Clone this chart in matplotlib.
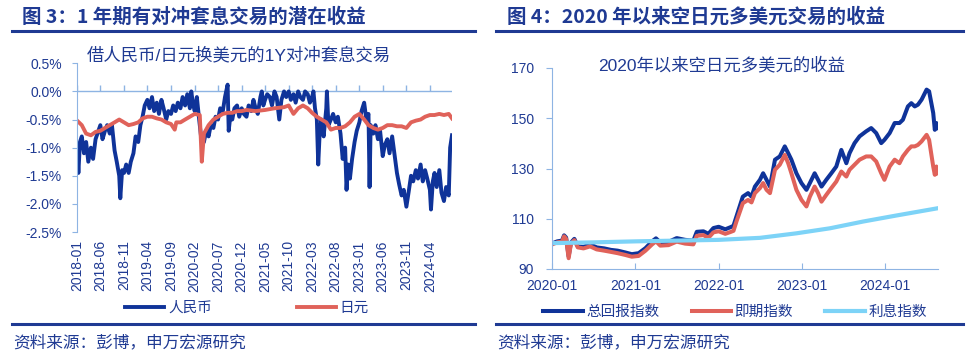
import matplotlib
matplotlib.use('Agg')
import matplotlib.pyplot as plt
import pandas as pd
import numpy as np
from matplotlib.lines import Line2D

plt.rcParams['font.family'] = ['Liberation Sans', 'Noto Sans CJK SC', 'DejaVu Sans']

NAVY = '#0F3399'
RED = '#E0625A'
LBLUE = '#7DD3F7'
TXT = '#1F3A93'
SPINE = '#8EB4E3'

# ---- 图3: 1年期对冲套息交易收益 (%), 人民币 / 日元
rmb_dates = ['2018-01-02', '2018-01-10', '2018-01-20', '2018-02-01', '2018-02-15', '2018-03-01', '2018-03-15',
             '2018-04-01', '2018-04-15', '2018-05-01', '2018-06-01', '2018-06-15', '2018-07-01', '2018-07-15',
             '2018-08-01', '2018-08-15', '2018-09-01', '2018-09-15', '2018-10-01', '2018-10-08', '2018-10-20',
             '2018-11-01', '2018-11-15', '2018-12-01', '2018-12-15', '2019-01-01', '2019-01-15', '2019-02-01',
             '2019-02-15', '2019-03-01', '2019-03-15', '2019-04-01', '2019-04-15', '2019-05-01', '2019-05-15',
             '2019-06-01', '2019-06-15', '2019-07-01', '2019-07-15', '2019-08-01', '2019-08-15', '2019-09-01',
             '2019-09-15', '2019-10-01', '2019-10-15', '2019-11-01', '2019-11-15', '2019-12-01', '2019-12-15',
             '2020-01-01', '2020-01-10', '2020-01-20', '2020-02-01', '2020-02-15', '2020-03-01', '2020-03-15',
             '2020-04-01', '2020-04-15', '2020-05-01', '2020-05-15', '2020-06-01', '2020-06-15', '2020-07-01',
             '2020-07-15', '2020-08-01', '2020-08-15', '2020-09-01', '2020-09-08', '2020-09-20', '2020-10-01',
             '2020-10-15', '2020-11-01', '2020-11-15', '2020-12-01', '2020-12-15', '2021-01-01', '2021-01-15',
             '2021-02-01', '2021-02-15', '2021-03-01', '2021-03-15', '2021-04-01', '2021-04-10', '2021-04-20',
             '2021-05-01', '2021-05-15', '2021-06-01', '2021-06-15', '2021-07-01', '2021-07-15', '2021-08-01',
             '2021-08-15', '2021-09-01', '2021-09-15', '2021-10-01', '2021-10-15', '2021-11-01', '2021-11-15',
             '2021-12-01', '2021-12-15', '2022-01-01', '2022-01-15', '2022-02-01', '2022-02-15', '2022-03-01',
             '2022-03-10', '2022-03-20', '2022-04-01', '2022-04-10', '2022-04-20', '2022-05-01', '2022-05-15',
             '2022-06-01', '2022-06-05', '2022-06-15', '2022-07-01', '2022-07-15', '2022-08-01', '2022-08-15',
             '2022-09-01', '2022-09-15', '2022-10-01', '2022-10-10', '2022-10-20', '2022-11-01', '2022-11-15',
             '2022-12-01', '2022-12-15', '2023-01-01', '2023-01-15', '2023-02-01', '2023-02-15', '2023-03-01',
             '2023-03-08', '2023-03-15', '2023-04-01', '2023-04-15', '2023-05-01', '2023-05-15', '2023-06-01',
             '2023-06-15', '2023-07-01', '2023-07-15', '2023-08-01', '2023-08-15', '2023-09-01', '2023-09-15',
             '2023-10-01', '2023-10-15', '2023-11-01', '2023-11-15', '2023-12-01', '2023-12-15', '2024-01-01',
             '2024-01-15', '2024-02-01', '2024-02-15', '2024-03-01', '2024-03-15', '2024-04-01', '2024-04-08',
             '2024-04-20', '2024-05-01', '2024-05-15', '2024-06-01', '2024-06-15', '2024-07-01', '2024-07-15',
             '2024-08-01', '2024-08-10', '2024-08-22']
rmb_carry = [-1.0, -1.45, -0.9, -0.8, -1.1, -0.9, -1.25,
             -1.0, -1.2, -0.85, -0.6, -0.85, -0.7, -0.6,
             -0.75, -0.6, -1.05, -1.25, -1.5, -1.9, -1.4,
             -1.45, -1.3, -1.45, -1.25, -1.1, -0.8, -0.9,
             -0.6, -0.45, -0.25, -0.15, -0.3, -0.1, -0.35,
             -0.2, -0.4, -0.15, -0.3, -0.5, -0.35, -0.4,
             -0.25, -0.35, -0.2, -0.3, -0.1, -0.25, -0.05,
             -0.3, 0.0, -0.2, -0.35, -0.1, -0.5, -0.85,
             -0.9, -0.7, -0.8, -0.6, -0.65, -0.45, -0.5,
             -0.3, -0.35, -0.1, 0.12, -0.7, -0.4, -0.5,
             -0.3, -0.25, -0.45, -0.3, -0.4, -0.45, -0.25,
             -0.35, -0.15, -0.3, -0.4, -0.1, 0.0, -0.25,
             -0.15, -0.05, -0.1, -0.25, 0.0, -0.1, -0.5,
             -0.15, 0.0, -0.1, 0.0, -0.15, -0.05, -0.2,
             0.0, -0.1, -0.15, 0.0, -0.05, -0.2, -0.1,
             0.0, -0.3, -0.5, -1.3, -0.7, -0.5, -0.8,
             -0.3, 0.0, -0.6, -0.5, -0.4, -0.55, -0.45,
             -0.75, -1.2, -1.0, -1.75, -1.3, -1.55, -1.2,
             -0.9, -0.7, -0.55, -0.35, -0.2, -0.5, -0.4,
             -1.7, -0.6, -0.75, -0.6, -0.85, -0.7, -1.15,
             -0.95, -0.85, -1.1, -0.8, -1.1, -1.45, -1.65,
             -1.85, -1.75, -2.05, -1.8, -1.5, -1.6, -1.4,
             -1.55, -1.3, -1.6, -1.4, -1.55, -1.75, -2.1,
             -1.6, -1.45, -1.7, -1.4, -1.8, -1.95, -1.7,
             -1.85, -1.0, -0.78]

jpy_dates = ['2018-01-02', '2018-02-01', '2018-03-01', '2018-04-01', '2018-05-01', '2018-06-01', '2018-07-01',
             '2018-08-01', '2018-09-01', '2018-10-01', '2018-11-01', '2018-12-01', '2019-01-01', '2019-02-01',
             '2019-03-01', '2019-04-01', '2019-05-01', '2019-06-01', '2019-07-01', '2019-08-01', '2019-09-01',
             '2019-09-25', '2019-10-05', '2019-11-01', '2019-12-01', '2020-01-01', '2020-02-01', '2020-03-05',
             '2020-03-18', '2020-04-01', '2020-05-01', '2020-06-01', '2020-07-01', '2020-08-01', '2020-09-01',
             '2020-10-01', '2020-11-01', '2020-12-01', '2021-01-01', '2021-03-01', '2021-05-01', '2021-07-01',
             '2021-09-01', '2021-10-01', '2021-11-01', '2021-12-01', '2022-01-01', '2022-02-01', '2022-03-01',
             '2022-04-01', '2022-05-01', '2022-06-01', '2022-07-01', '2022-08-01', '2022-09-01', '2022-10-01',
             '2022-11-01', '2022-12-01', '2023-01-01', '2023-02-01', '2023-03-01', '2023-04-01', '2023-05-01',
             '2023-06-01', '2023-07-01', '2023-08-01', '2023-09-01', '2023-10-01', '2023-11-01', '2023-12-01',
             '2024-01-01', '2024-02-01', '2024-03-01', '2024-04-01', '2024-05-01', '2024-06-01', '2024-07-01',
             '2024-08-01', '2024-08-22']
jpy_carry = [-0.52, -0.6, -0.75, -0.78, -0.72, -0.7, -0.65,
             -0.6, -0.55, -0.5, -0.55, -0.6, -0.58, -0.55,
             -0.48, -0.45, -0.45, -0.48, -0.5, -0.55, -0.58,
             -0.68, -0.55, -0.55, -0.5, -0.45, -0.4, -0.42,
             -1.25, -0.75, -0.6, -0.5, -0.45, -0.4, -0.38,
             -0.38, -0.35, -0.35, -0.33, -0.35, -0.33, -0.3,
             -0.28, -0.25, -0.4, -0.3, -0.25, -0.3, -0.38,
             -0.45, -0.5, -0.55, -0.68, -0.65, -0.65, -0.62,
             -0.55, -0.45, -0.4, -0.5, -0.6, -0.65, -0.68,
             -0.65, -0.6, -0.6, -0.62, -0.62, -0.65, -0.55,
             -0.52, -0.5, -0.45, -0.42, -0.42, -0.4, -0.42,
             -0.4, -0.48]

# ---- 图4: 2020年以来空日元多美元的收益 (指数)
fx_dates = ['2020-01-02', '2020-01-24', '2020-02-14', '2020-02-23', '2020-03-03', '2020-03-14', '2020-03-24',
            '2020-04-08', '2020-04-23', '2020-05-18', '2020-06-16', '2020-07-15', '2020-08-17', '2020-09-16',
            '2020-10-15', '2020-11-17', '2020-12-16', '2021-01-15', '2021-02-14', '2021-03-15', '2021-04-01',
            '2021-04-20', '2021-05-26', '2021-07-01', '2021-08-07', '2021-09-12', '2021-09-27', '2021-10-26',
            '2021-11-17', '2021-12-09', '2022-01-01', '2022-01-30', '2022-02-21', '2022-03-07', '2022-03-20',
            '2022-04-17', '2022-05-10', '2022-05-25', '2022-06-09', '2022-07-01', '2022-07-15', '2022-07-30',
            '2022-08-14', '2022-09-05', '2022-09-26', '2022-10-18', '2022-11-02', '2022-11-16', '2022-12-08',
            '2022-12-30', '2023-01-21', '2023-02-05', '2023-02-26', '2023-03-13', '2023-03-28', '2023-04-18',
            '2023-05-10', '2023-06-01', '2023-06-23', '2023-07-15', '2023-07-29', '2023-08-20', '2023-09-11',
            '2023-10-10', '2023-11-01', '2023-11-23', '2023-12-15', '2023-12-29', '2024-01-21', '2024-02-12',
            '2024-03-04', '2024-03-19', '2024-04-10', '2024-04-25', '2024-05-10', '2024-05-24', '2024-06-09',
            '2024-07-01', '2024-07-12', '2024-07-30', '2024-08-06', '2024-08-13', '2024-08-20']
total_return = [100.2, 101.0, 101.3, 103.4, 102.5, 95.0, 100.5,
                102.0, 99.0, 98.8, 99.8, 98.6, 98.2, 97.6,
                97.3, 96.6, 95.9, 96.3, 98.3, 101.0, 102.2,
                100.6, 100.8, 102.3, 101.6, 101.3, 104.8, 105.0,
                104.0, 106.3, 106.8, 105.8, 106.6, 107.2, 110.9,
                118.8, 120.2, 118.8, 122.8, 125.5, 128.1, 125.5,
                122.8, 133.5, 134.8, 138.8, 136.1, 133.5, 128.1,
                124.2, 121.5, 124.2, 128.1, 125.5, 122.8, 125.5,
                128.1, 130.8, 137.4, 132.1, 136.1, 140.1, 142.8,
                144.8, 146.1, 144.1, 140.1, 141.4, 144.1, 148.1,
                148.1, 149.4, 154.7, 156.0, 154.7, 155.4, 157.4,
                161.4, 160.7, 152.1, 145.4, 148.1, 146.1]
spot_index = [99.8, 100.6, 100.9, 103.0, 102.0, 94.3, 100.0,
              101.5, 98.6, 98.2, 99.0, 97.8, 97.3, 96.8,
              96.3, 95.6, 94.9, 95.2, 97.3, 99.8, 101.0,
              99.3, 99.5, 100.9, 100.1, 99.8, 103.2, 103.5,
              102.4, 104.6, 105.0, 104.0, 104.7, 105.2, 108.9,
              116.2, 117.5, 116.5, 120.2, 122.2, 124.2, 121.5,
              120.2, 129.5, 131.5, 135.4, 132.1, 128.1, 121.5,
              117.5, 114.9, 118.8, 122.8, 120.2, 116.8, 119.5,
              122.2, 124.8, 128.8, 126.8, 129.5, 131.5, 133.5,
              134.8, 134.8, 132.8, 128.1, 125.5, 130.8, 133.5,
              132.1, 134.8, 137.4, 138.8, 138.8, 139.4, 140.8,
              143.4, 141.4, 130.8, 127.5, 130.8, 128.1]
carry_dates = ['2020-01-02', '2020-07-01', '2021-01-01', '2021-07-01', '2022-01-01', '2022-07-01',
               '2022-12-08', '2023-05-04', '2023-09-27', '2024-02-20', '2024-08-20']
carry_index = [100.3, 100.6, 101.0, 101.3, 101.6, 102.4, 104.2, 106.2, 108.9, 111.3, 114.2]

fig = plt.figure(figsize=(9.78, 3.57), dpi=100)
W, H = 978.0, 357.0


def fx(px):
    return px / W


def fy(py):
    return 1 - py / H


# headers, rules, sources
for x0, x1, title in [(12, 475, '图 3：1 年期有对冲套息交易的潜在收益'),
                      (496, 963, '图 4：2020 年以来空日元多美元交易的收益')]:
    fig.text(fx(x0 + 10 if x0 == 12 else x0 + 11), fy(17), title, fontsize=14, fontweight='bold',
             color=TXT, va='center', ha='left', family=['Noto Sans CJK SC'])
    fig.add_artist(Line2D([fx(x0), fx(x1)], [fy(31), fy(31)], color='#1F3A93', lw=2.2))
    fig.add_artist(Line2D([fx(x0), fx(x1)], [fy(324), fy(324)], color='#1F3A93', lw=2.2))
    fig.text(fx(x0 + 1), fy(343), '资料来源：彭博，申万宏源研究', fontsize=12, color=TXT,
             va='center', ha='left', family=['Noto Sans CJK SC'])

# ---- left panel
ax1 = fig.add_axes([fx(77), fy(232), fx(452 - 77), (232 - 63.3) / H])
d_rmb = pd.to_datetime(rmb_dates)
d_jpy = pd.to_datetime(jpy_dates)
ax1.plot(d_rmb, rmb_carry, color=NAVY, lw=2.8, label='人民币', solid_joinstyle='round')
ax1.plot(d_jpy, jpy_carry, color=RED, lw=2.8, label='日元', solid_joinstyle='round')
ax1.set_ylim(-2.5, 0.5)
ax1.set_xlim(pd.Timestamp('2018-01-01'), pd.Timestamp('2024-08-22'))
yt = np.arange(-2.5, 0.51, 0.5)
ax1.set_yticks(yt, ['%.1f%%' % v for v in yt])
xt = pd.date_range('2018-01-01', '2024-04-01', freq='5MS')
ax1.set_xticks(xt, [d.strftime('%Y-%m') for d in xt], rotation=90)
ax1.tick_params(axis='x', length=0, pad=6, colors=TXT, labelsize=10)
ax1.tick_params(axis='y', length=3.5, pad=7.5, colors=TXT, labelsize=10, color=SPINE, direction='out')
for s in ['top', 'right', 'bottom']:
    ax1.spines[s].set_visible(False)
ax1.spines['left'].set_color(SPINE)
ax1.axhline(0, color=SPINE, lw=1.0, zorder=1)
ax1.plot(xt, np.zeros(len(xt)), ls='none', marker=2, ms=4, mew=1.0, color=SPINE, zorder=1)
fig.text(fx(87), fy(55), '借人民币/日元换美元的1Y对冲套息交易', fontsize=12.5, color=TXT,
         va='center', ha='left')
fig.legend(handles=ax1.get_lines()[:2], labels=['人民币', '日元'], loc='center',
           bbox_to_anchor=(fx(247), fy(308)), ncol=2, frameon=False, fontsize=10.5,
           handlelength=2.7, handletextpad=0.25, columnspacing=5.8, labelcolor=TXT)

# ---- right panel
ax2 = fig.add_axes([fx(552), fy(269), fx(938 - 552), (269 - 68) / H])
d_fx = pd.to_datetime(fx_dates)
d_carry = pd.to_datetime(carry_dates)
l1, = ax2.plot(d_fx, total_return, color=NAVY, lw=2.9, solid_joinstyle='round')
l2, = ax2.plot(d_fx, spot_index, color=RED, lw=2.9, solid_joinstyle='round')
l3, = ax2.plot(d_carry, carry_index, color=LBLUE, lw=3.0)
ax2.set_ylim(90, 170)
ax2.set_yticks(np.arange(90, 171, 20))
ax2.set_xlim(pd.Timestamp('2020-01-01'), pd.Timestamp('2024-08-20'))
xt2 = pd.date_range('2020-01-01', '2024-01-01', freq='12MS')
ax2.set_xticks(xt2, [d.strftime('%Y-%m') for d in xt2])
ax2.tick_params(axis='x', length=4, pad=7, colors=TXT, labelsize=10, color=SPINE, direction='in')
ax2.tick_params(axis='y', length=4, pad=9, colors=TXT, labelsize=10, color=SPINE, direction='out')
for s in ['top', 'right']:
    ax2.spines[s].set_visible(False)
for s in ['left', 'bottom']:
    ax2.spines[s].set_color(SPINE)
fig.text(fx(598), fy(65), '2020年以来空日元多美元的收益', fontsize=12.5, color=TXT,
         va='center', ha='left')
fig.legend(handles=[l1, l2, l3], labels=['总回报指数', '即期指数', '利息指数'], loc='center',
           bbox_to_anchor=(fx(735), fy(312)), ncol=3, frameon=False, fontsize=10.5,
           handlelength=2.7, handletextpad=0.25, columnspacing=2.2, labelcolor=TXT)

fig.savefig('out.png', dpi=100)
